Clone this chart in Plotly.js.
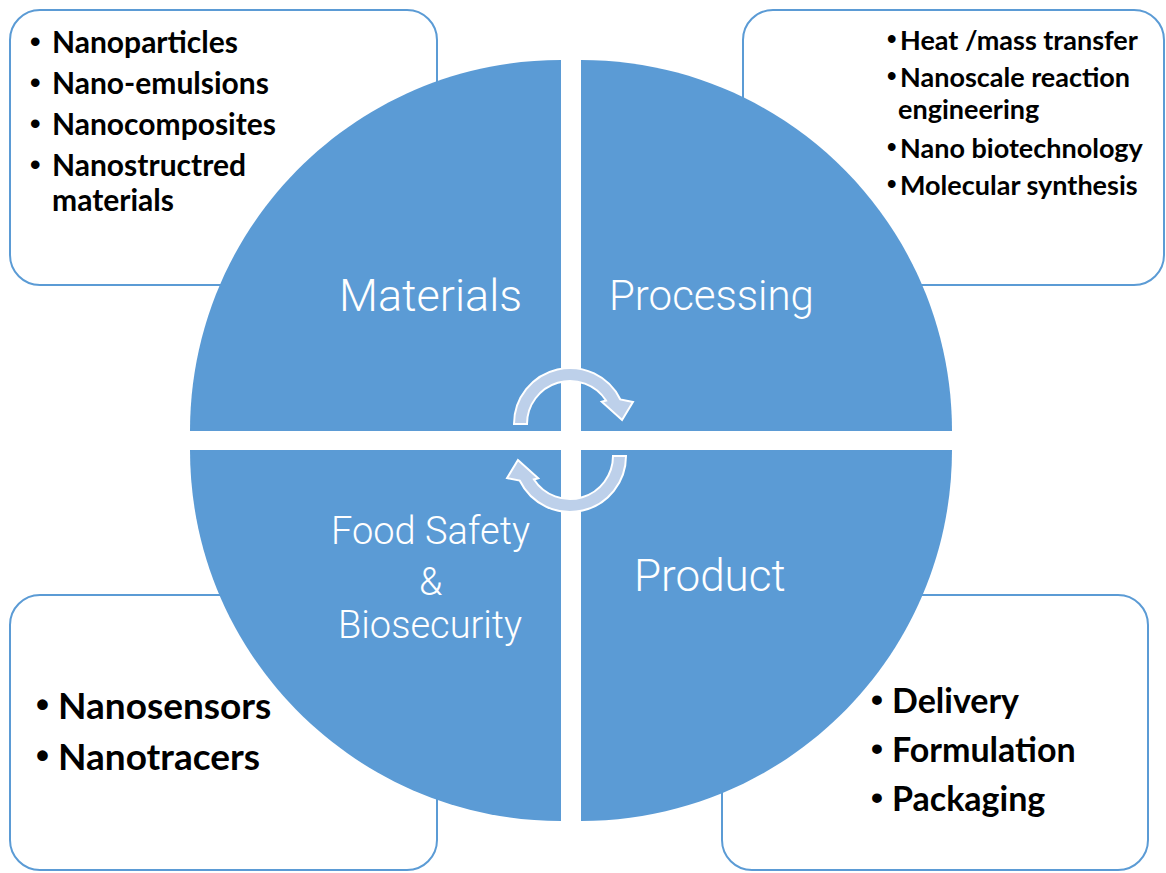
<!DOCTYPE html>
<html>
<head>
<meta charset="utf-8">
<script src="https://cdn.plot.ly/plotly-3.0.1.min.js"></script>
<style>html,body{margin:0;padding:0;background:#fff;}#chart{width:1166px;height:873px;}</style>
</head>
<body>
<div id="chart"></div>
<script>
// ---- content ----
const quadrantNames = ['Materials', 'Processing', 'Product'];
const safetyLabelLines = ['Food Safety', '&', 'Biosecurity'];
const materialsItems = [['Nanoparticles'], ['Nano-emulsions'], ['Nanocomposites'], ['Nanostructred', 'materials']];
const processingItems = [['Heat /mass transfer'], ['Nanoscale reaction', 'engineering'], ['Nano biotechnology'], ['Molecular synthesis']];
const safetyItems = [['Nanosensors'], ['Nanotracers']];
const productItems = [['Delivery'], ['Formulation'], ['Packaging']];

// ---- geometry helpers ----
const K = 0.5523;
function pol(cx, cy, r, deg) { const t = deg * Math.PI / 180; return [cx + r * Math.cos(t), cy - r * Math.sin(t)]; }
function arcSegs(cx, cy, r, a0, a1, tf) {
  const n = Math.max(1, Math.ceil(Math.abs(a1 - a0) / 90));
  let s = '';
  for (let i = 0; i < n; i++) {
    const t0 = (a0 + (a1 - a0) * i / n) * Math.PI / 180;
    const t1 = (a0 + (a1 - a0) * (i + 1) / n) * Math.PI / 180;
    const k = 4 / 3 * Math.tan((t1 - t0) / 4);
    const p0 = [cx + r * Math.cos(t0), cy - r * Math.sin(t0)];
    const p3 = [cx + r * Math.cos(t1), cy - r * Math.sin(t1)];
    const c1 = [p0[0] + k * (-r * Math.sin(t0)), p0[1] + k * (-r * Math.cos(t0))];
    const c2 = [p3[0] - k * (-r * Math.sin(t1)), p3[1] - k * (-r * Math.cos(t1))];
    const q = [c1, c2, p3].map(tf);
    s += ' C ' + q.map(p => p[0].toFixed(2) + ' ' + p[1].toFixed(2)).join(' ');
  }
  return s;
}
const idt = p => p;
function pt(p) { return p[0].toFixed(2) + ' ' + p[1].toFixed(2); }
function quarter(cx, cy, r, a0, a1) {
  return 'M ' + pt([cx, cy]) + ' L ' + pt(pol(cx, cy, r, a0)) + arcSegs(cx, cy, r, a0, a1, idt) + ' Z';
}
function roundRect(x0, y0, x1, y1, r) {
  const k = K * r;
  return `M ${x0 + r} ${y0} L ${x1 - r} ${y0} C ${x1 - r + k} ${y0} ${x1} ${y0 + r - k} ${x1} ${y0 + r}` +
    ` L ${x1} ${y1 - r} C ${x1} ${y1 - r + k} ${x1 - r + k} ${y1} ${x1 - r} ${y1}` +
    ` L ${x0 + r} ${y1} C ${x0 + r - k} ${y1} ${x0} ${y1 - r + k} ${x0} ${y1 - r}` +
    ` L ${x0} ${y0 + r} C ${x0} ${y0 + r - k} ${x0 + r - k} ${y0} ${x0 + r} ${y0} Z`;
}
function arrowPath(tf) {
  const cx = 570, cy = 424, R = 56, r = 43;
  let s = 'M ' + pt(tf(pol(cx, cy, R, 180)));
  s += arcSegs(cx, cy, R, 180, 26, tf);
  s += ' L ' + pt(tf(pol(cx, cy, 66.7, 19.3)));
  s += ' L ' + pt(tf(pol(cx, cy, 52.2, 4.4)));
  s += ' L ' + pt(tf(pol(cx, cy, 38.8, 35)));
  s += ' L ' + pt(tf(pol(cx, cy, r, 33)));
  s += arcSegs(cx, cy, r, 33, 180, tf);
  return s + ' Z';
}
const rot = p => [1140 - p[0], 880 - p[1]];

const BLUE = '#5b9bd5';
const shapes = [];
[[10, 10, 437, 285], [743, 10, 1164, 285], [10, 595, 437, 870], [722, 595, 1148, 870]].forEach(b => {
  shapes.push({ type: 'path', xref: 'x', yref: 'y', path: roundRect(b[0], b[1], b[2], b[3], 30),
    line: { color: BLUE, width: 2 }, fillcolor: '#ffffff' });
});
[quarter(561, 431, 371, 180, 90), quarter(581, 431, 371, 90, 0),
 quarter(561, 450, 371, 270, 180), quarter(581, 450, 371, 0, -90)].forEach(p => {
  shapes.push({ type: 'path', xref: 'x', yref: 'y', path: p, line: { width: 0 }, fillcolor: BLUE });
});
[arrowPath(idt), arrowPath(rot)].forEach(p => {
  shapes.push({ type: 'path', xref: 'x', yref: 'y', path: p, line: { color: '#ffffff', width: 2 }, fillcolor: '#bdd0ea' });
});

// ---- text ----
const annotations = [];
function txt(x, y, t, font, anchor) {
  annotations.push({ x: x, y: y, xref: 'x', yref: 'y', text: t, showarrow: false,
    xanchor: anchor || 'left', yanchor: 'middle', font: font });
}
function list(items, bulletX, textX, contX, ys, size) {
  const f = { family: 'Lato, sans-serif', size: size, color: '#000000', weight: 700 };
  const fb = { family: 'Liberation Sans, sans-serif', size: size, color: '#000000', weight: 700 };
  let li = 0;
  items.forEach(item => {
    txt(bulletX, ys[li], '•', fb, 'center');
    item.forEach((line, j) => { txt(j === 0 ? textX : contX, ys[li], line, f, 'left'); li++; });
  });
}
list(materialsItems, 35, 50, 50, [41, 82, 123, 164, 199], 30);
list(processingItems, 891, 898, 896, [39, 76, 108, 147, 184], 27);
list(safetyItems, 42, 56, 56, [704, 755], 37);
list(productItems, 877, 890, 890, [699, 748, 797], 34);

const qf = s => ({ family: 'Roboto, sans-serif', size: s, color: '#ffffff', weight: 300 });
txt(430, 295, quadrantNames[0], qf(45), 'center');
txt(711, 295, quadrantNames[1], qf(42), 'center');
txt(710, 576, quadrantNames[2], qf(44), 'center');
[531, 582, 625].forEach((y, i) => txt(430, y, safetyLabelLines[i], qf(38), 'center'));

Plotly.newPlot('chart', [{ x: [], y: [], type: 'scatter', hoverinfo: 'skip', showlegend: false }], {
  width: 1166, height: 873, margin: { l: 0, r: 0, t: 0, b: 0 },
  paper_bgcolor: '#ffffff', plot_bgcolor: '#ffffff', showlegend: false,
  xaxis: { range: [0, 1166], visible: false, fixedrange: true },
  yaxis: { range: [873, 0], visible: false, fixedrange: true },
  shapes: shapes, annotations: annotations
}, { staticPlot: true, displayModeBar: false });
</script>
</body>
</html>
